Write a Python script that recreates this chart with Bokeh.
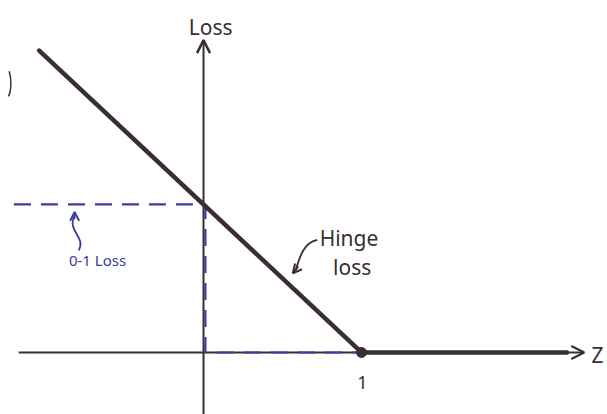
from bokeh.plotting import figure
from bokeh.models import Range1d, Arrow, OpenHead
from bokeh.core.properties import value
from bokeh.embed import file_html
from bokeh.resources import INLINE

# Hinge loss: max(0, 1 - z)
hinge_z = [-1.04, 1.0, 2.3]
hinge_loss = [2.04, 0.0, 0.0]

# 0-1 loss (step at z = 0)
zero_one_z = [-1.2, 0.012, 0.012, 1.0]
zero_one_loss = [1.0, 1.0, 0.0, 0.0]

kink_z = [1.0]
kink_loss = [0.0]

ink = "#3a2d33"
blue = "#3b3ba0"
font = value("Noto Sans")

p = figure(width=607, height=414, output_backend="svg", toolbar_location=None,
           x_range=Range1d(-1.285, 2.557), y_range=Range1d(-0.419, 2.378),
           min_border=0, background_fill_color="white", border_fill_color="white")
p.axis.visible = False
p.grid.visible = False
p.outline_line_color = None

# hand-drawn style axes with arrow tips, kept beneath the curves
p.add_layout(Arrow(end=OpenHead(size=13, line_width=2, line_color=ink),
                   x_start=-1.17, y_start=0, x_end=2.41, y_end=0,
                   line_width=2, line_color=ink, level="underlay"))
p.add_layout(Arrow(end=OpenHead(size=13, line_width=2.5, line_color=ink),
                   x_start=0, y_start=-0.42, x_end=0, y_end=2.11,
                   line_width=2, line_color=ink, level="underlay"))

# 0-1 loss, dashed
p.line(zero_one_z, zero_one_loss, line_color=blue, line_width=2.2, line_dash="17 10")

# hinge loss
p.line(hinge_z, hinge_loss, line_color=ink, line_width=4.5, line_cap="round")
p.scatter(kink_z, kink_loss, size=10, color=ink)

# labels
p.text(x=[0.045], y=[2.2], text=["Loss"], text_font=font, text_font_size="21px",
       text_color=ink, text_align="center", text_baseline="middle")
p.text(x=[2.494], y=[-0.02], text=["Z"], text_font=font, text_font_size="21px",
       text_color=ink, text_align="center", text_baseline="middle")
p.text(x=[1.006], y=[-0.205], text=["1"], text_font=font, text_font_size="18px",
       text_color=ink, text_align="center", text_baseline="middle")
p.text(x=[0.735], y=[0.775], text=["Hinge"], text_font=font, text_font_size="21px",
       text_color=ink, text_align="left", text_baseline="middle")
p.text(x=[0.82], y=[0.58], text=["loss"], text_font=font, text_font_size="21px",
       text_color=ink, text_align="left", text_baseline="middle")
p.text(x=[-0.671], y=[0.622], text=["0-1 Loss"], text_font=font, text_font_size="15px",
       text_color=blue, text_align="center", text_baseline="middle")

# pointer to the hinge curve
p.bezier(x0=[0.72], y0=[0.76], x1=[0.58], y1=[0.55], cx0=[0.62], cy0=[0.74],
         cx1=[0.6], cy1=[0.6], line_color=ink, line_width=1.8)
p.add_layout(Arrow(end=OpenHead(size=9, line_width=2, line_color=ink),
                   x_start=0.60, y_start=0.58, x_end=0.565, y_end=0.535,
                   line_width=1.8, line_color=ink))

# squiggly pointer to the 0-1 loss line
p.bezier(x0=[-0.79], y0=[0.69], x1=[-0.815], y1=[0.93], cx0=[-0.74], cy0=[0.78],
         cx1=[-0.87], cy1=[0.82], line_color=blue, line_width=1.8)
p.add_layout(Arrow(end=OpenHead(size=9, line_width=2, line_color=blue),
                   x_start=-0.816, y_start=0.9, x_end=-0.816, y_end=0.95,
                   line_width=1.8, line_color=blue))

# stray pen stroke on the left margin
p.bezier(x0=[-1.23], y0=[1.90], x1=[-1.235], y1=[1.73], cx0=[-1.215], cy0=[1.85],
         cx1=[-1.215], cy1=[1.77], line_color=ink, line_width=1.5)

open("out.html", "w").write(file_html(p, INLINE))
